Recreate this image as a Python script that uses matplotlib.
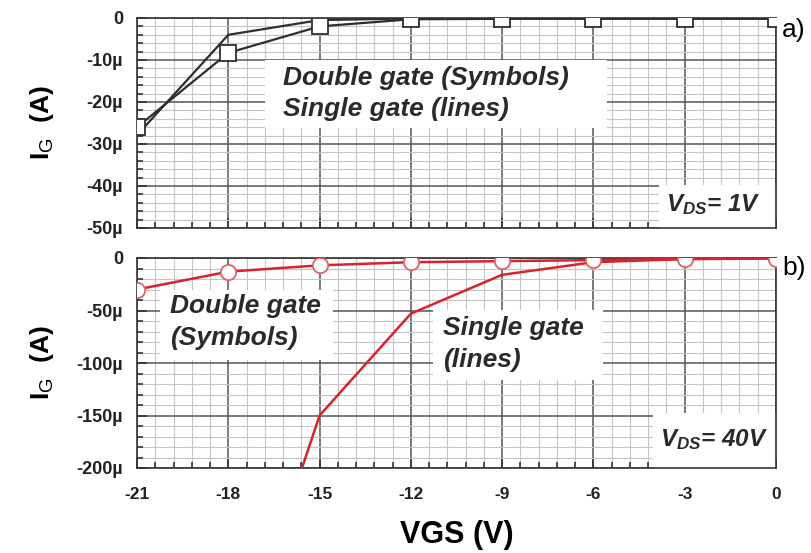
import matplotlib
matplotlib.use("Agg")
import matplotlib.pyplot as plt
from matplotlib.patches import Rectangle
from matplotlib.ticker import MultipleLocator, FuncFormatter

plt.rcParams['font.family'] = ['Liberation Sans', 'DejaVu Sans']
plt.rcParams['mathtext.fontset'] = 'custom'
plt.rcParams['mathtext.rm'] = 'Liberation Sans'
plt.rcParams['mathtext.it'] = 'Liberation Sans:italic:bold'
plt.rcParams['mathtext.bf'] = 'Liberation Sans:bold'

# ---- data (gate current in µA) ----
vgs = [-21, -18, -15, -12, -9, -6, -3, 0]
# panel a) VDS = 1 V
double_a = [-26.0, -8.3, -2.0, -0.3, -0.2, -0.2, -0.2, -0.2]
single_a = [-27.9, -4.0, -0.5, -0.1, -0.1, -0.1, -0.1, -0.1]
# panel b) VDS = 40 V
double_b = [-30.0, -13.0, -7.0, -4.0, -3.0, -2.0, -1.0, -0.5]
single_b = [-1500.0, -410.0, -150.0, -53.0, -16.0, -4.0, -1.0, 0.0]

xticks = [-21, -18, -15, -12, -9, -6, -3, 0]

W, H = 811, 553
fig = plt.figure(figsize=(W / 100, H / 100), dpi=100)

def fx(px):
    return px / W

def fy(py):
    return 1 - py / H

ax_a = fig.add_axes([fx(137), fy(228), fx(776) - fx(137), fy(18) - fy(228)])
ax_b = fig.add_axes([fx(137), fy(468), fx(776) - fx(137), fy(258) - fy(468)])

gray = '#2e2e2e'
red = '#d8222e'
red_marker = '#e2606a'

def mu_fmt(v, pos):
    if abs(v) < 1e-9:
        return '0'
    return f'{int(round(v))}µ'

def style(ax, ymin, ystep):
    ax.set_xlim(-21, 0)
    ax.set_ylim(ymin, 0)
    ax.xaxis.set_major_locator(MultipleLocator(3))
    ax.xaxis.set_minor_locator(MultipleLocator(0.6))
    ax.yaxis.set_major_locator(MultipleLocator(ystep))
    ax.yaxis.set_minor_locator(MultipleLocator(ystep / 5))
    ax.grid(which='major', color='#555555', linewidth=1.1, zorder=0)
    ax.grid(which='minor', color='#c4c4c4', linewidth=0.8, zorder=0)
    ax.set_axisbelow(True)
    ax.tick_params(which='both', direction='in', color='#333333', width=1.2)
    ax.tick_params(which='major', length=7)
    ax.tick_params(which='minor', length=4)
    ax.tick_params(axis='x', which='major', labelsize=12.5, pad=14)
    ax.tick_params(axis='y', which='major', labelsize=13, pad=10)
    ax.yaxis.set_major_formatter(FuncFormatter(mu_fmt))
    for sp in ax.spines.values():
        sp.set_color('#333333')
        sp.set_linewidth(1.2)
    ax.set_ylabel(r'I$_{\mathrm{G}}$  (A)', fontsize=19, fontweight='bold')
    ax.yaxis.set_label_coords(-0.126, 0.5)

def bold_ticks(ax):
    for lab in ax.get_yticklabels() + ax.get_xticklabels():
        lab.set_fontweight('bold')
        lab.set_color('#222222')

def box_text(ax, x0, x1, y0, y1, tx, ty, lines, size=19):
    ax.add_patch(Rectangle((x0, y0), x1 - x0, y1 - y0, facecolor='white',
                           edgecolor='none', zorder=1.5))
    ax.text(tx, ty, lines, fontsize=size, fontweight='bold', style='italic',
            color='#2a2a2a', ha='left', va='center', zorder=4, linespacing=1.38)

# ---- panel a ----
style(ax_a, -50, 10)
ax_a.set_xticks(xticks)
ax_a.set_xticklabels([])
ax_a.plot(vgs, single_a, color=gray, lw=1.6, zorder=3, clip_on=True)
ax_a.plot(vgs, double_a, color=gray, lw=1.6, marker='s', ms=11,
          mfc='white', mec=gray, mew=1.3, zorder=3, clip_on=True)
box_text(ax_a, -16.8, -5.55, -26.2, -10.0, -16.2, -18.0,
         'Double gate (Symbols)\nSingle gate (lines)')
box_text(ax_a, -3.85, 0, -50, -39.8, -3.6, -44.5, r'$V_{DS}$= 1V', size=17.5)
bold_ticks(ax_a)

# ---- panel b ----
style(ax_b, -200, 50)
ax_b.set_xticks(xticks)
ax_b.set_xticklabels([str(t) for t in xticks])
ax_b.plot(vgs, single_b, color=red, lw=1.8, zorder=3, clip_on=True)
ax_b.plot(vgs, double_b, color=red, lw=1.8, marker='o', ms=11,
          mfc='white', mec=red_marker, mew=1.3, zorder=3, clip_on=True)
box_text(ax_b, -20.24, -14.56, -97, -30.5, -19.9, -61,
         'Double gate\n(Symbols)')
box_text(ax_b, -11.27, -5.69, -116, -49.5, -10.95, -82,
         'Single gate\n(lines)')
box_text(ax_b, -4.05, 0, -200, -147.6, -3.8, -173, r'$V_{DS}$= 40V', size=17.5)
ax_b.set_xlabel('VGS (V)', fontsize=22, fontweight='bold', labelpad=13)
bold_ticks(ax_b)

fig.text(fx(782), fy(30), 'a)', fontsize=19, ha='left', va='center')
fig.text(fx(782), fy(268), 'b)', fontsize=19, ha='left', va='center')

fig.savefig('out.png', dpi=100)
